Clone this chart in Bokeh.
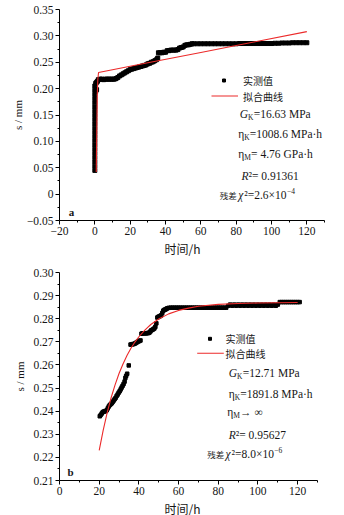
from bokeh.plotting import figure
from bokeh.models import Label, FixedTicker, Range1d, Title
from bokeh.layouts import column
from bokeh.embed import file_html
from bokeh.resources import INLINE

# ---------------- data: panel a ----------------
a_t = [0, 0, 0, 0, 0, 0, 0, 0, 0, 0, 0, 0, 0, 0, 0, 0, 0, 0, 0, 0, 0,
       0.5, 0.5, 1.0, 1.0, 1.5, 2,
       3, 4, 5, 6, 7, 8, 9, 10, 11,
       12, 13, 14, 15, 16, 17, 18, 19, 20, 21, 22, 23, 24, 25, 26, 27, 28, 29,
       30, 31, 32, 33, 34, 35, 35.6,
       36, 37, 38, 39, 40, 41, 42, 43, 44, 45, 46, 47, 48, 49, 50, 51, 52, 53, 54, 55,
       56, 58, 60, 62, 64, 66, 68, 70, 72, 74, 76, 78, 80,
       82, 84, 86, 88, 90, 92, 94, 96, 98, 100,
       102, 104, 106, 108, 110, 112, 114, 116, 118, 120]
a_s = [0.045, 0.053, 0.061, 0.069, 0.077, 0.085, 0.093, 0.101, 0.109, 0.117, 0.125,
       0.133, 0.141, 0.149, 0.157, 0.165, 0.173, 0.181, 0.189, 0.197, 0.205,
       0.195, 0.210, 0.198, 0.212, 0.214, 0.217,
       0.218, 0.218, 0.217, 0.218, 0.218, 0.218, 0.218, 0.218, 0.218,
       0.219, 0.221, 0.224, 0.226, 0.228, 0.230, 0.232, 0.234, 0.236, 0.237, 0.238,
       0.239, 0.240, 0.241, 0.242, 0.243, 0.244, 0.245,
       0.247, 0.248, 0.250, 0.251, 0.253, 0.255, 0.258,
       0.268, 0.268, 0.268, 0.269, 0.269, 0.272, 0.272, 0.273, 0.273, 0.273, 0.273,
       0.274, 0.277, 0.278, 0.279, 0.282, 0.283, 0.283, 0.284, 0.285,
       0.285, 0.285, 0.285, 0.285, 0.285, 0.285, 0.285, 0.285, 0.285, 0.285, 0.285, 0.285, 0.285,
       0.2855, 0.2855, 0.2855, 0.2855, 0.2855, 0.2855, 0.2855, 0.2855, 0.2855, 0.2855,
       0.286, 0.286, 0.2865, 0.2865, 0.2865, 0.287, 0.287, 0.287, 0.287, 0.287]
a_fit_t = [0.8, 1.1, 1.4, 1.7, 2.1, 10, 30, 60, 90, 120]
a_fit_s = [0.042, 0.120, 0.190, 0.218, 0.2306, 0.2358, 0.2489, 0.2686, 0.2883, 0.3080]

# ---------------- data: panel b ----------------
b_t = [20.3, 20.8, 21.3, 21.8, 22.3, 22.8, 23.3, 23.8, 24.3, 24.8, 25.3, 25.8, 26.3,
       26.8, 27.3, 27.8, 28.3, 28.8, 29.3, 29.8, 30.3, 30.8, 31.3, 31.8, 32.3, 32.8,
       33.2, 33.6, 34.1, 34.9,
       35.8, 36.3, 36.8, 37.3, 37.8, 38.3, 38.8, 39.3, 39.8, 40.3, 40.8,
       41.3, 41.8, 42.3, 42.8, 43.3, 43.8, 44.3, 44.8, 45.3, 45.8, 46.3, 46.8, 47.3, 47.8, 48.3,
       48.8, 49.3, 49.8, 50.3, 50.8, 51.3, 51.8,
       52.3, 52.8, 53.3, 53.8, 54.3, 55.0,
       56, 57, 58, 59, 60, 61, 62, 63, 64, 65, 66, 67, 68, 69, 70, 71, 72, 73, 74, 75,
       76, 77, 78, 79, 80, 81, 82, 83, 84,
       85, 86, 87, 88, 89, 90, 91, 92, 93, 94, 95, 96, 97, 98, 99, 100, 101, 102, 103,
       104, 105, 106, 107, 108, 109, 110,
       111, 112, 113, 114, 115, 116, 117, 118, 119, 120, 121]
b_s = [0.2378, 0.2384, 0.2390, 0.2396, 0.2398, 0.2400, 0.2400, 0.2404, 0.2412, 0.2420,
       0.2426, 0.2430, 0.2434, 0.2440, 0.2446, 0.2452, 0.2458, 0.2466, 0.2472, 0.2480,
       0.2486, 0.2494, 0.2502, 0.2510, 0.2518, 0.2528, 0.2544, 0.2553, 0.2562, 0.2598,
       0.2688, 0.2688, 0.2690, 0.2690, 0.2692, 0.2694, 0.2697, 0.2700, 0.2702, 0.2704, 0.2706,
       0.2735, 0.2737, 0.2737, 0.2737, 0.2737, 0.2737, 0.2738, 0.2738, 0.2740, 0.2745,
       0.2750, 0.2752, 0.2755, 0.2758, 0.2765,
       0.2780, 0.2805, 0.2808, 0.2810, 0.2812, 0.2815, 0.2825,
       0.2835, 0.2838, 0.2840, 0.2842, 0.2845, 0.2847,
       0.2848, 0.2848, 0.2848, 0.2848, 0.2848, 0.2848, 0.2848, 0.2848, 0.2848, 0.2848,
       0.2848, 0.2848, 0.2848, 0.2848, 0.2848, 0.2848, 0.2848, 0.2848, 0.2848, 0.2848,
       0.2848, 0.2848, 0.2848, 0.2848, 0.2848, 0.2848, 0.2848, 0.2848, 0.2848,
       0.2856, 0.2861, 0.2856, 0.2861, 0.2856, 0.2861, 0.2856, 0.2861, 0.2856, 0.2861,
       0.2856, 0.2861, 0.2856, 0.2861, 0.2856, 0.2861, 0.2856, 0.2861, 0.2856, 0.2861,
       0.2856, 0.2861, 0.2856, 0.2861, 0.2856, 0.2861,
       0.2872, 0.2872, 0.2872, 0.2872, 0.2872, 0.2872, 0.2872, 0.2872, 0.2872, 0.2872, 0.2872]
b_fit_t = [20, 22, 24, 26, 28, 30, 32, 34, 36, 38, 40, 43, 46, 50, 55, 60, 65, 70,
           80, 90, 100, 110, 120]
b_fit_s = [0.2230, 0.2317, 0.2393, 0.2458, 0.2514, 0.2563, 0.2604, 0.2641, 0.2672,
           0.2699, 0.2722, 0.2751, 0.2775, 0.2799, 0.2821, 0.2836, 0.2846, 0.2854,
           0.2862, 0.2866, 0.2868, 0.2869, 0.2870]

# ---------------- ticks ----------------
a_xticks = [-20, 0, 20, 40, 60, 80, 100, 120]
a_xlabels = ["\u221220", "0", "20", "40", "60", "80", "100", "120"]
a_yticks = [-0.05, 0, 0.05, 0.10, 0.15, 0.20, 0.25, 0.30, 0.35]
a_ylabels = ["\u22120.05", "0", "0.05", "0.10", "0.15", "0.20", "0.25", "0.30", "0.35"]
b_xticks = [0, 20, 40, 60, 80, 100, 120]
b_xlabels = ["0", "20", "40", "60", "80", "100", "120"]
b_yticks = [0.21, 0.22, 0.23, 0.24, 0.25, 0.26, 0.27, 0.28, 0.29, 0.30]
b_ylabels = ["0.21", "0.22", "0.23", "0.24", "0.25", "0.26", "0.27", "0.28", "0.29", "0.30"]

legend_labels = ["实测值", "拟合曲线"]
x_title = "时间/h"
y_title = "s / mm"

# ---------------- style ----------------
SERIF = "Liberation Serif"
CJK = "Noto Sans CJK SC"
RED = "#ec2a2a"
TXT = "#161616"
W = 344
PS = 11.5  # parameter text size

GA = dict(left=58, right=323, top=9, bottom=220, x0=-20, x1=130, y0=-0.05, y1=0.35, ftop=0, fh=257)
GB = dict(left=59, right=317, top=272, bottom=480, x0=0, x1=130, y0=0.21, y1=0.30, ftop=257, fh=258)


def to_data(g, px, py):
    x = g["x0"] + (px - g["left"]) / (g["right"] - g["left"]) * (g["x1"] - g["x0"])
    y = g["y1"] - (py - g["top"]) / (g["bottom"] - g["top"]) * (g["y1"] - g["y0"])
    return x, y


def put(p, g, px, py, text, size, font=SERIF, style="normal", align="left"):
    x, y = to_data(g, px, py)
    p.add_layout(Label(x=x, y=y, text=text, text_font=font, text_font_size=f"{size}px",
                       text_font_style=style, text_align=align, text_baseline="middle",
                       text_color=TXT))


def mids(ticks):
    return [(ticks[i] + ticks[i + 1]) / 2 for i in range(len(ticks) - 1)]


def make_fig(g, xt, xl, yt, yl, ylab_standoff):
    p = figure(frame_width=g["right"] - g["left"], frame_height=g["bottom"] - g["top"],
               min_border_left=g["left"], min_border_right=W - g["right"],
               min_border_top=g["top"] - g["ftop"],
               min_border_bottom=g["ftop"] + g["fh"] - g["bottom"],
               x_range=Range1d(g["x0"], g["x1"]), y_range=Range1d(g["y0"], g["y1"]),
               output_backend="svg", toolbar_location=None,
               background_fill_color="white", border_fill_color="white")
    p.outline_line_color = None
    p.grid.visible = False
    p.xaxis.ticker = FixedTicker(ticks=xt, minor_ticks=mids(xt) + [xt[-1] + (xt[1] - xt[0]) / 2])
    p.yaxis.ticker = FixedTicker(ticks=yt, minor_ticks=mids(yt))
    p.xaxis.major_label_overrides = dict(zip(xt, xl))
    p.yaxis.major_label_overrides = dict(zip(yt, yl))
    for ax in (p.xaxis[0], p.yaxis[0]):
        ax.axis_line_color = "black"
        ax.axis_line_width = 1
        ax.major_tick_line_color = "black"
        ax.minor_tick_line_color = "black"
        ax.major_tick_out = 4
        ax.major_tick_in = 0
        ax.minor_tick_out = 2
        ax.minor_tick_in = 0
        ax.major_label_text_font = SERIF
        ax.major_label_text_font_size = "11.5px"
        ax.major_label_text_color = TXT
    p.xaxis.major_label_standoff = 2
    p.yaxis.major_label_standoff = 2
    p.yaxis.axis_label = y_title
    p.yaxis.axis_label_text_font = SERIF
    p.yaxis.axis_label_text_font_size = "11px"
    p.yaxis.axis_label_text_font_style = "normal"
    p.yaxis.axis_label_text_color = TXT
    p.yaxis.axis_label_standoff = ylab_standoff
    p.add_layout(Title(text=x_title, align="left", offset=105, standoff=0,
                       text_font=CJK, text_font_size="12px", text_font_style="normal",
                       text_color=TXT), "below")
    return p


def manual_legend(p, g, mx, my, lx0, lx1, ly, tx, msize):
    x, y = to_data(g, mx, my)
    p.scatter([x], [y], marker="square", size=msize, color="black")
    xa, ya = to_data(g, lx0, ly)
    xb, _ = to_data(g, lx1, ly)
    p.line([xa, xb], [ya, ya], color=RED, line_width=1.1)
    put(p, g, tx, my, legend_labels[0], 10, font=CJK)
    put(p, g, tx, ly, legend_labels[1], 10, font=CJK)


# ---------------- panel a ----------------
pa = make_fig(GA, a_xticks, a_xlabels, a_yticks, a_ylabels, 0)
pa.scatter(a_t, a_s, marker="square", size=4, color="black")
pa.line(a_fit_t, a_fit_s, color=RED, line_width=1.1)
manual_legend(pa, GA, 222.5, 80, 210, 236.5, 95.5, 241.5, 3)

put(pa, GA, 238.3, 113.3, "G", PS, style="italic")
put(pa, GA, 246.6, 116.5, "K", 7.5)
put(pa, GA, 252.2, 113.3, "=16.63 MPa", PS)
put(pa, GA, 236.8, 133.3, "\u03b7", PS)
put(pa, GA, 242.8, 136.5, "K", 7.5)
put(pa, GA, 248.3, 133.3, "=1008.6 MPa\u00b7h", PS)
put(pa, GA, 236.8, 153.3, "\u03b7", PS)
put(pa, GA, 242.8, 156.5, "M", 7.5)
put(pa, GA, 249.6, 153.3, "= 4.76 GPa\u00b7h", PS)
put(pa, GA, 240.0, 175.7, "R", PS, style="italic")
put(pa, GA, 247.0, 175.7, "\u00b2= 0.91361", PS)
put(pa, GA, 218.3, 194.0, "残差", 8.5, font=CJK)
put(pa, GA, 236.7, 194.0, "\u03c7", PS, style="italic")
put(pa, GA, 242.8, 194.0, "\u00b2=2.6\u00d710", PS)
put(pa, GA, 285.5, 190.0, "\u22124", 7.5)
put(pa, GA, 70, 211.7, "a", 11, style="bold", align="center")

# ---------------- panel b ----------------
pb = make_fig(GB, b_xticks, b_xlabels, b_yticks, b_ylabels, 4)
pb.scatter(b_t, b_s, marker="square", size=3.5, color="black")
pb.line(b_fit_t, b_fit_s, color=RED, line_width=1.1)
manual_legend(pb, GB, 209.5, 338.3, 196.7, 223.3, 352.7, 225, 3)

put(pb, GB, 228.3, 372.7, "G", PS, style="italic")
put(pb, GB, 236.6, 375.9, "K", 7.5)
put(pb, GB, 242.2, 372.7, "=12.71 MPa", PS)
put(pb, GB, 228.3, 393.3, "\u03b7", PS)
put(pb, GB, 234.3, 396.5, "K", 7.5)
put(pb, GB, 239.8, 393.3, "=1891.8 MPa\u00b7h", PS)
put(pb, GB, 226.7, 411.7, "\u03b7", PS)
put(pb, GB, 232.7, 414.9, "M", 7.5)
put(pb, GB, 239.5, 411.7, "\u2192 \u221e", PS)
put(pb, GB, 228.3, 434.3, "R", PS, style="italic")
put(pb, GB, 235.3, 434.3, "\u00b2= 0.95627", PS)
put(pb, GB, 206.7, 453.3, "残差", 8.5, font=CJK)
put(pb, GB, 225.0, 453.3, "\u03c7", PS, style="italic")
put(pb, GB, 231.1, 453.3, "\u00b2=8.0\u00d710", PS)
put(pb, GB, 273.8, 449.3, "\u22126", 7.5)
put(pb, GB, 70, 471.7, "b", 11, style="bold", align="center")

layout = column(pa, pb, spacing=0)
open("out.html", "w").write(file_html(layout, INLINE))
